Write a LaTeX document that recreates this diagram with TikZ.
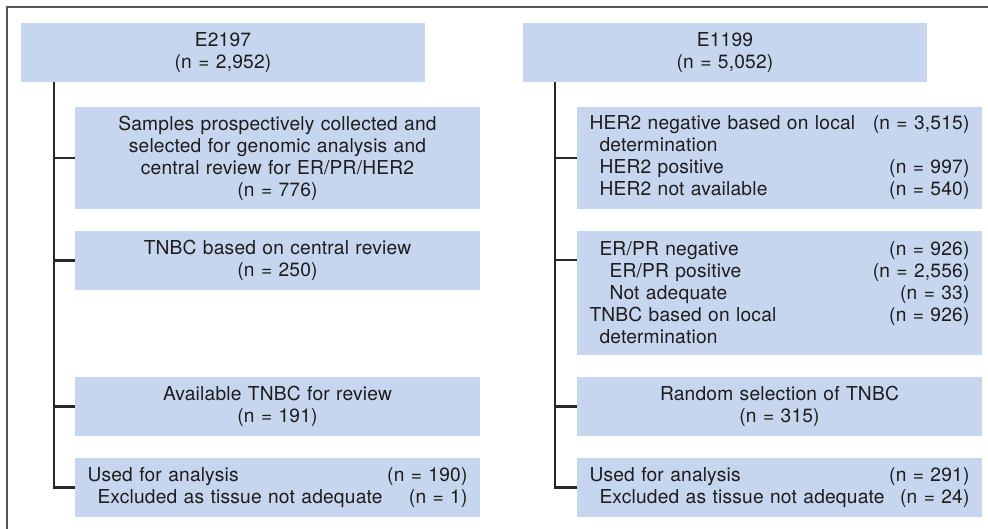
\documentclass[tikz,border=0pt]{standalone}
\usepackage{fontspec}
\setmainfont[LetterSpace=1]{TeX Gyre Heros}
\definecolor{boxblue}{RGB}{198,214,238}
\definecolor{conncol}{RGB}{40,40,40}
\definecolor{framecol}{RGB}{85,85,85}
\definecolor{txtcol}{RGB}{30,28,28}
\begin{document}
\begin{tikzpicture}[x=1pt,y=-1pt,
  box/.style={fill=boxblue,draw=none,inner xsep=12.5pt,inner ysep=0pt,
    text width=380pt,minimum width=405pt,text=txtcol,
    font=\fontsize{19.2}{22}\selectfont},
  cbox/.style={box,align=center},
  lbox/.style={box,align=left},
  conn/.style={draw=conncol,line width=2.2pt},
  frame/.style={draw=framecol,line width=1.4pt}]
\useasboundingbox (0,0) rectangle (988,529);
% frame (top and left edges)
\coordinate (fr1) at (7,529);
\coordinate (fr2) at (7,7);
\coordinate (fr3) at (988,7);
\draw[frame] (fr1) -- (fr2) -- (fr3);

% ---------- left column ----------
\node[cbox,minimum height=59pt,text width=379pt,minimum width=404pt] (L0) at (223,52.5) {E2197\\(n = 2,952)};
\node[cbox,minimum height=102pt] (L1) at (277.5,158) {Samples prospectively collected and\\selected for genomic analysis and\\central review for ER/PR/HER2\\(n = 776)};
\node[cbox,minimum height=59pt] (L2) at (277.5,260.5) {TNBC based on central review\\(n = 250)};
\node[cbox,minimum height=59pt] (L3) at (277.5,406.5) {Available TNBC for review\\(n = 191)};
\node[lbox,minimum height=59pt] (L4) at (277.5,487.5) {Used for analysis\hfill(n = 190)\\\hspace*{10pt}Excluded as tissue not adequate\hfill(n = 1)};

\coordinate (Ltop) at (54,82);
\draw[conn] (Ltop) |- (L4.west);
\draw[conn] (L1.west) -- (L1.west -| Ltop);
\draw[conn] (L2.west) -- (L2.west -| Ltop);
\draw[conn] (L3.west) -- (L3.west -| Ltop);

% ---------- right column ----------
\node[cbox,minimum height=59pt,text width=379pt,minimum width=404pt] (R0) at (725,52.5) {E1199\\(n = 5,052)};
\node[lbox,minimum height=102pt] (R1) at (779.5,158) {HER2 negative based on local\hfill(n = 3,515)\\\hspace*{10pt}determination\\\hspace*{10pt}HER2 positive\hfill(n = 997)\\\hspace*{10pt}HER2 not available\hfill(n = 540)};
\node[lbox,minimum height=124pt] (R2) at (779.5,293) {\hspace*{10pt}ER/PR negative\hfill(n = 926)\\\hspace*{20pt}ER/PR positive\hfill(n = 2,556)\\\hspace*{20pt}Not adequate\hfill(n = 33)\\TNBC based on local\hfill(n = 926)\\\hspace*{10pt}determination};
\node[cbox,minimum height=59pt] (R3) at (779.5,406.5) {Random selection of TNBC\\(n = 315)};
\node[lbox,minimum height=59pt] (R4) at (779.5,487.5) {Used for analysis\hfill(n = 291)\\\hspace*{10pt}Excluded as tissue not adequate\hfill(n = 24)};

\coordinate (Rtop) at (555,82);
\coordinate (R2in) at (577,260);
\draw[conn] (Rtop) |- (R4.west);
\draw[conn] (R1.west) -- (R1.west -| Rtop);
\draw[conn] (R2in) -- (R2in -| Rtop);
\draw[conn] (R3.west) -- (R3.west -| Rtop);
\end{tikzpicture}
\end{document}
